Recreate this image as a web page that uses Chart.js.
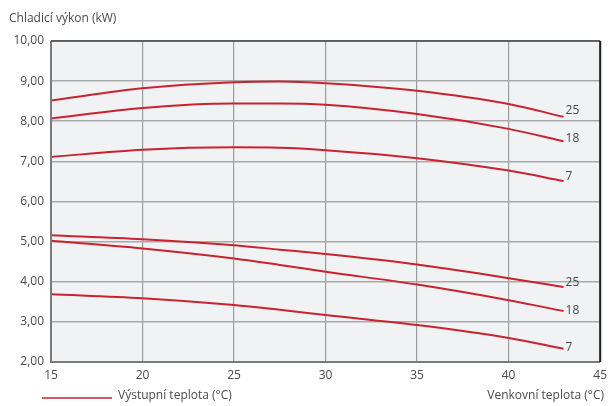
<!DOCTYPE html>
<html>
<head>
<meta charset="utf-8">
<script src="https://cdn.jsdelivr.net/npm/chart.js@4/dist/chart.umd.min.js"></script>
<style>
  html, body { margin: 0; padding: 0; background: #ffffff; }
  #wrap { position: relative; width: 613px; height: 406px; }
</style>
</head>
<body>
<div id="wrap"><canvas id="c" width="613" height="406"></canvas></div>
<script>
// Outdoor temperature (°C) sample points
const outdoorTemp = [15, 20, 25, 27.5, 30, 35, 40, 43];

// Cooling capacity (kW) per outlet temperature, upper family
const capUpper25 = [8.52, 8.82, 8.97, 8.99, 8.95, 8.76, 8.43, 8.11];
const capUpper18 = [8.07, 8.33, 8.44, 8.44, 8.41, 8.18, 7.81, 7.50];
const capUpper7  = [7.11, 7.29, 7.35, 7.34, 7.28, 7.08, 6.77, 6.51];

// Cooling capacity (kW) per outlet temperature, lower family
const capLower25 = [5.16, 5.06, 4.91, 4.80, 4.69, 4.43, 4.09, 3.87];
const capLower18 = [5.02, 4.83, 4.58, 4.42, 4.25, 3.93, 3.54, 3.27];
const capLower7  = [3.69, 3.59, 3.42, 3.30, 3.17, 2.92, 2.60, 2.33];

// End-of-curve labels (outlet temperature)
const curveLabels = ['25', '18', '7', '25', '18', '7'];

// Axis tick labels
const xTickLabels = ['15', '20', '25', '30', '35', '40', '45'];
const yTickLabels = ['2,00', '3,00', '4,00', '5,00', '6,00', '7,00', '8,00', '9,00', '10,00'];

const yTitle = 'Chladicí výkon (kW)';
const xTitle = 'Venkovní teplota (°C)';
const legendText = 'Výstupní teplota (°C)';

const RED = '#c8232f';
const TEXT = '#4a4a4a';
const FONT = '"Open Sans", "DejaVu Sans", sans-serif';

// vertical nudge of each end label relative to its curve end (px)
const labelNudge = [-6, -3, -4, -4, 0, -1];

const series = [capUpper25, capUpper18, capUpper7, capLower25, capLower18, capLower7];
const datasets = series.map((vals, i) => ({
  label: curveLabels[i],
  data: outdoorTemp.map((t, k) => ({ x: t, y: vals[k] })),
  borderColor: RED,
  borderWidth: 2,
  pointRadius: 0,
  fill: false,
  cubicInterpolationMode: 'monotone'
}));

// Plot background, frame, curve labels and the legend/titles
const decor = {
  id: 'decor',
  beforeDraw(chart) {
    const { ctx, chartArea: a } = chart;
    ctx.save();
    ctx.fillStyle = '#f1f2f4';
    ctx.fillRect(a.left, a.top, a.right - a.left, a.bottom - a.top);
    ctx.restore();
  },
  afterDatasetsDraw(chart) {
    const { ctx, chartArea: a } = chart;
    ctx.save();
    // frame
    ctx.lineWidth = 2;
    ctx.strokeStyle = '#7a7a7a';
    ctx.beginPath();
    ctx.moveTo(a.left, a.top);
    ctx.lineTo(a.left, a.bottom);
    ctx.lineTo(a.right, a.bottom);
    ctx.stroke();
    ctx.strokeStyle = '#444';
    ctx.lineWidth = 1.5;
    ctx.beginPath();
    ctx.moveTo(a.left, a.top);
    ctx.lineTo(a.right, a.top);
    ctx.stroke();
    ctx.strokeStyle = '#222';
    ctx.lineWidth = 2;
    ctx.beginPath();
    ctx.moveTo(a.right, a.top);
    ctx.lineTo(a.right, a.bottom);
    ctx.stroke();

    // labels at curve ends
    ctx.font = '12px ' + FONT;
    ctx.fillStyle = TEXT;
    ctx.textBaseline = 'middle';
    ctx.textAlign = 'left';
    const xs = chart.scales.x, ys = chart.scales.y;
    chart.data.datasets.forEach((ds, i) => {
      const last = ds.data[ds.data.length - 1];
      ctx.fillText(curveLabels[i], xs.getPixelForValue(last.x) + 2, ys.getPixelForValue(last.y) + labelNudge[i]);
    });

    // y-axis title
    ctx.textBaseline = 'alphabetic';
    ctx.fillText(yTitle, 9, 22);

    // legend
    ctx.strokeStyle = RED;
    ctx.lineWidth = 1.5;
    ctx.beginPath();
    ctx.moveTo(42, 398);
    ctx.lineTo(112, 398);
    ctx.stroke();
    ctx.fillText(legendText, 118, 399);

    // x-axis title
    ctx.textAlign = 'right';
    ctx.fillText(xTitle, 604, 399);
    ctx.restore();
  }
};

new Chart(document.getElementById('c'), {
  type: 'line',
  data: { datasets },
  options: {
    responsive: false,
    animation: false,
    layout: { padding: { left: 0, right: 9, top: 41, bottom: 0 } },
    plugins: { legend: { display: false }, tooltip: { enabled: false } },
    scales: {
      x: {
        type: 'linear',
        min: 15, max: 45,
        ticks: {
          stepSize: 5,
          padding: 6,
          color: TEXT,
          font: { family: FONT, size: 12 },
          callback: (v) => xTickLabels[Math.round((v - 15) / 5)]
        },
        grid: { color: '#9d9d9d', lineWidth: 1.2, drawTicks: false },
        border: { display: false },
        afterFit(s) { s.height = 44; }
      },
      y: {
        min: 2, max: 10,
        ticks: {
          stepSize: 1,
          padding: 7,
          color: TEXT,
          font: { family: FONT, size: 12 },
          callback: (v) => yTickLabels[Math.round(v - 2)]
        },
        grid: { color: '#a9a9a9', lineWidth: 1.6, drawTicks: false },
        border: { display: false },
        afterFit(s) { s.width = 51; }
      }
    }
  },
  plugins: [decor]
});
</script>
</body>
</html>
